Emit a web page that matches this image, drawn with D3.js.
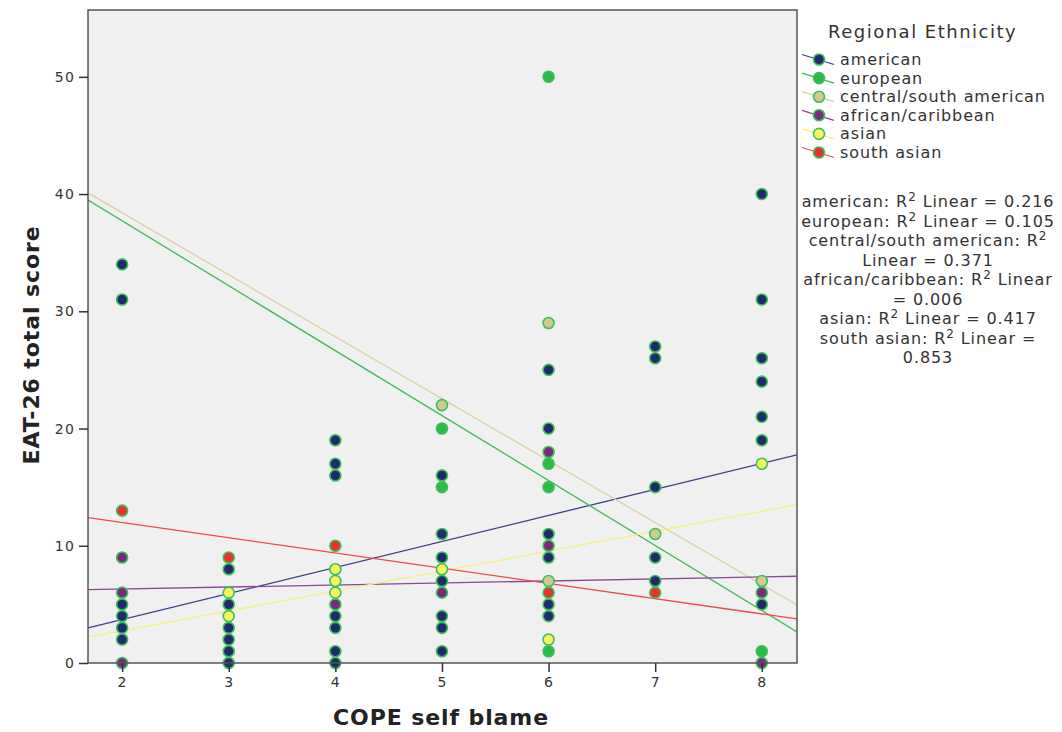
<!DOCTYPE html>
<meta charset="utf-8">
<style>
body { margin: 0; background: #fff; }
text { font-family: "DejaVu Sans", sans-serif; }
</style>
<svg width="1062" height="732"></svg>
<script src="https://d3js.org/d3.v7.min.js"></script>
<script>

// ---- data ----
var groups = ["american", "european", "central/south american", "african/caribbean", "asian", "south asian"];
var fillColors = ["#222a6e", "#2dbb48", "#d2c893", "#7a2a7c", "#f6f55e", "#e8322e"];
var lineColors = ["#3a3f86", "#3cba55", "#d8d0a4", "#8a4a92", "#f4f07a", "#ee4a4a"];

var americanPts = [[2,34],[2,31],[2,5],[2,4],[2,3],[2,2],
  [3,8],[3,5],[3,3],[3,2],[3,1],[3,0],
  [4,19],[4,17],[4,16],[4,4],[4,3],[4,1],[4,0],
  [5,16],[5,11],[5,9],[5,7],[5,4],[5,3],[5,1],
  [6,25],[6,20],[6,11],[6,9],[6,5],[6,4],
  [7,27],[7,26],[7,15],[7,9],[7,7],
  [8,40],[8,31],[8,26],[8,24],[8,21],[8,19],[8,5]];
var europeanPts = [[5,20],[5,15],[6,50],[6,17],[6,15],[6,1],[8,1]];
var centralPts = [[5,22],[6,29],[6,7],[7,11],[8,7]];
var africanPts = [[2,9],[2,6],[2,0],[4,5],[5,6],[6,18],[6,10],[8,6],[8,0]];
var asianPts = [[3,6],[3,4],[4,8],[4,7],[4,6],[5,8],[6,2],[8,17]];
var southAsianPts = [[2,13],[3,9],[4,10],[6,6],[7,6]];
var allPts = [americanPts, europeanPts, centralPts, africanPts, asianPts, southAsianPts];

// linear fits (intercept, slope)
var fitIntercepts = [-0.73, 48.8, 48.98, 5.96, -0.655, 14.585];
var fitSlopes = [2.22, -5.54, -5.286, 0.173, 1.70, -1.30];

var r2Lines = ["american: R\u00b2 Linear = 0.216", "european: R\u00b2 Linear = 0.105",
  "central/south american: R\u00b2", "Linear = 0.371", "african/caribbean: R\u00b2 Linear",
  "= 0.006", "asian: R\u00b2 Linear = 0.417", "south asian: R\u00b2 Linear =", "0.853"];

var xTicks = [2, 3, 4, 5, 6, 7, 8];
var yTicks = [0, 10, 20, 30, 40, 50];

// ---- layout ----
var svg = d3.select("svg");
var plotL = 88, plotR = 797, plotT = 10, plotB = 663;

var x = d3.scaleLinear().domain([1.68, 8.33]).range([plotL, plotR]);
var y = d3.scaleLinear().domain([0, 55.7]).range([plotB, plotT]);

// R² annotations sit under the plot, which clips them
var legend = svg.append("g");
var r2 = legend.selectAll(".r2")
   .data(r2Lines)
   .enter()
   .append("text")
   .attr("class", "r2")
   .attr("x", 928)
   .attr("y", function(d, i) { return 207 + i * 19.5; })
   .attr("text-anchor", "middle")
   .style("font-size", "16px")
   .style("letter-spacing", "0.9px")
   .attr("fill", "#333");

r2.each(function(d) {
  var t = d3.select(this);
  var parts = d.split("\u00b2");
  t.append("tspan").text(parts[0]);
  if (parts.length > 1) {
    t.append("tspan").attr("dy", -6).style("font-size", "12px").text("2");
    t.append("tspan").attr("dy", 6).text(parts[1]);
  }
});

svg.append("rect")
   .attr("x", plotL).attr("y", plotT)
   .attr("width", plotR - plotL).attr("height", plotB - plotT)
   .attr("fill", "#f0f0f0");

svg.append("clipPath").attr("id", "clip")
   .append("rect")
   .attr("x", plotL).attr("y", plotT)
   .attr("width", plotR - plotL).attr("height", plotB - plotT);

// fit lines
var fits = svg.append("g").attr("clip-path", "url(#clip)");
groups.forEach(function(g, i) {
  var x0 = x.domain()[0], x1 = x.domain()[1];
  fits.append("line")
      .attr("x1", x(x0)).attr("y1", y(fitIntercepts[i] + fitSlopes[i] * x0))
      .attr("x2", x(x1)).attr("y2", y(fitIntercepts[i] + fitSlopes[i] * x1))
      .attr("stroke", lineColors[i])
      .attr("stroke-width", 1.3);
});

// points
var pts = svg.append("g");
allPts.forEach(function(arr, i) {
  pts.selectAll(null)
     .data(arr)
     .enter()
     .append("circle")
     .attr("cx", function(d) { return x(d[0]); })
     .attr("cy", function(d) { return y(d[1]); })
     .attr("r", 5.5)
     .attr("fill", fillColors[i])
     .attr("stroke", "#3cc05a")
     .attr("stroke-width", 1.6);
});

// frame
svg.append("rect")
   .attr("x", plotL).attr("y", plotT)
   .attr("width", plotR - plotL).attr("height", plotB - plotT)
   .attr("fill", "none")
   .attr("stroke", "#555")
   .attr("stroke-width", 1.5);

// axes
var yAxis = svg.append("g")
   .attr("transform", "translate(" + plotL + ",0)")
   .call(d3.axisLeft(y).tickValues(yTicks).tickSize(9).tickPadding(4).tickFormat(d3.format("d")));
var xAxis = svg.append("g")
   .attr("transform", "translate(0," + plotB + ")")
   .call(d3.axisBottom(x).tickValues(xTicks).tickSize(9).tickPadding(5).tickFormat(d3.format("d")));

[xAxis, yAxis].forEach(function(a) {
  a.select(".domain").remove();
  a.selectAll(".tick line").attr("stroke", "#333").attr("stroke-width", 1.5);
  a.selectAll(".tick text")
   .attr("fill", "#333")
   .style("font-family", "DejaVu Sans, sans-serif")
   .style("font-size", "14px")
   .style("letter-spacing", "1.2px");
});

svg.append("text")
   .attr("transform", "translate(39," + 345 + ") rotate(-90)")
   .attr("text-anchor", "middle")
   .style("font-family", "DejaVu Sans, sans-serif")
   .style("font-weight", "bold")
   .style("font-size", "22px")
   .style("letter-spacing", "0.9px")
   .attr("fill", "#222")
   .text("EAT-26 total score");

svg.append("text")
   .attr("x", 441).attr("y", 725)
   .attr("text-anchor", "middle")
   .style("font-family", "DejaVu Sans, sans-serif")
   .style("font-weight", "bold")
   .style("font-size", "22px")
   .style("letter-spacing", "0.9px")
   .attr("fill", "#222")
   .text("COPE self blame");

// legend
legend.append("text")
   .attr("x", 828).attr("y", 38)
   .style("font-size", "18px")
   .style("letter-spacing", "1.5px")
   .attr("fill", "#333")
   .text("Regional Ethnicity");

var item = legend.selectAll(".item")
   .data(groups)
   .enter()
   .append("g")
   .attr("class", "item")
   .attr("transform", function(d, i) { return "translate(0," + (59.5 + i * 18.6) + ")"; });

item.append("line")
   .attr("x1", 802).attr("y1", -5)
   .attr("x2", 834).attr("y2", 5)
   .attr("stroke", function(d, i) { return lineColors[i]; })
   .attr("stroke-width", 1.3);
item.append("circle")
   .attr("cx", 819).attr("cy", 0).attr("r", 5.5)
   .attr("fill", function(d, i) { return fillColors[i]; })
   .attr("stroke", "#3cc05a")
   .attr("stroke-width", 1.6);
item.append("text")
   .attr("x", 840).attr("y", 5.5)
   .style("font-size", "16px")
   .style("letter-spacing", "0.9px")
   .attr("fill", "#333")
   .text(function(d) { return d; });

</script>
